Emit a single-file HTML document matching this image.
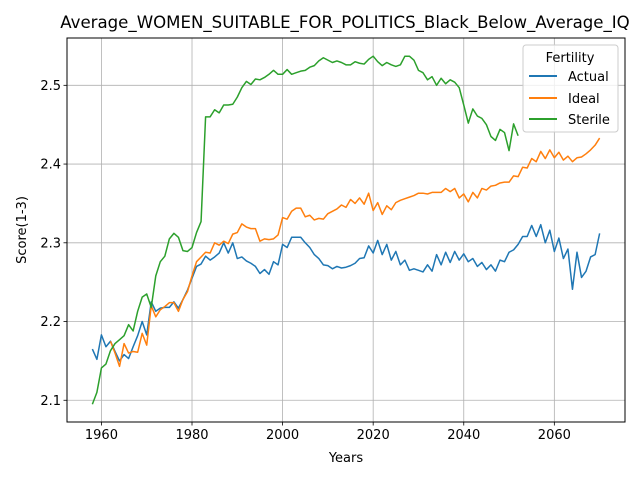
<!DOCTYPE html>
<html><head><meta charset="utf-8">
<style>
body{margin:0;background:#fff;}
svg{font-family:"DejaVu Sans","Liberation Sans",sans-serif;}
</style></head>
<body>
<svg id="chart" width="640" height="480" viewBox="0 0 640 480" xmlns="http://www.w3.org/2000/svg">
<rect width="640" height="480" fill="#fff"/>
<text x="345" y="28" font-size="16.6" text-anchor="middle">Average_WOMEN_SUITABLE_FOR_POLITICS_Black_Below_Average_IQ</text>
<g id="grid"></g>
<g id="series"></g>
<rect x="67" y="38" width="558" height="384" fill="none" stroke="#000" stroke-width="1"/>
<g id="ticks"></g>
<text x="346" y="462" font-size="13" text-anchor="middle">Years</text>
<text x="26" y="230" font-size="13" text-anchor="middle" transform="rotate(-90 26 230)">Score(1-3)</text>
<g>
<rect x="523" y="45" width="95" height="87" rx="3" fill="#fff" fill-opacity="0.8" stroke="#ccc"/>
<text x="570" y="62" font-size="13" text-anchor="middle">Fertility</text>
<line x1="529" y1="76" x2="557" y2="76" stroke="#1f77b4" stroke-width="2"/>
<text x="568" y="81" font-size="13">Actual</text>
<line x1="529" y1="98" x2="557" y2="98" stroke="#ff7f0e" stroke-width="2"/>
<text x="568" y="103" font-size="13">Ideal</text>
<line x1="529" y1="119" x2="557" y2="119" stroke="#2ca02c" stroke-width="2"/>
<text x="568" y="124" font-size="13">Sterile</text>
</g>
</svg>
<script>
const actualStart = 1958;
const actual = [2.165,2.152,2.183,2.168,2.175,2.162,2.150,2.158,2.153,2.168,2.182,2.200,2.183,2.225,2.213,2.217,2.218,2.218,2.225,2.217,2.228,2.240,2.255,2.270,2.273,2.283,2.278,2.282,2.287,2.300,2.287,2.300,2.280,2.282,2.277,2.274,2.270,2.261,2.266,2.260,2.276,2.272,2.298,2.294,2.307,2.307,2.307,2.300,2.294,2.285,2.280,2.272,2.271,2.267,2.270,2.268,2.269,2.271,2.274,2.280,2.281,2.296,2.287,2.303,2.285,2.298,2.278,2.289,2.272,2.278,2.265,2.267,2.265,2.263,2.272,2.264,2.285,2.272,2.288,2.275,2.289,2.278,2.286,2.276,2.280,2.270,2.275,2.266,2.272,2.264,2.278,2.276,2.288,2.291,2.298,2.308,2.308,2.322,2.308,2.323,2.300,2.316,2.289,2.306,2.280,2.292,2.241,2.288,2.256,2.264,2.282,2.285,2.312];
const idealStart = 1962;
const ideal = [2.175,2.160,2.143,2.172,2.160,2.162,2.161,2.185,2.170,2.220,2.206,2.215,2.219,2.224,2.224,2.213,2.228,2.238,2.258,2.276,2.282,2.288,2.287,2.300,2.297,2.302,2.299,2.311,2.313,2.324,2.320,2.318,2.318,2.302,2.305,2.304,2.305,2.310,2.332,2.330,2.340,2.344,2.344,2.333,2.335,2.329,2.331,2.330,2.337,2.340,2.343,2.348,2.345,2.355,2.350,2.357,2.349,2.363,2.341,2.351,2.336,2.347,2.342,2.351,2.354,2.356,2.358,2.360,2.363,2.363,2.362,2.364,2.364,2.364,2.369,2.365,2.369,2.357,2.362,2.352,2.364,2.357,2.369,2.367,2.372,2.373,2.376,2.377,2.377,2.385,2.384,2.396,2.395,2.407,2.403,2.416,2.407,2.418,2.408,2.415,2.405,2.410,2.403,2.408,2.409,2.413,2.418,2.424,2.433];
const sterileStart = 1958;
const sterile = [2.095,2.110,2.141,2.146,2.163,2.172,2.177,2.182,2.196,2.188,2.213,2.231,2.235,2.218,2.258,2.276,2.283,2.305,2.312,2.307,2.290,2.289,2.294,2.313,2.327,2.460,2.460,2.469,2.465,2.475,2.475,2.476,2.485,2.497,2.505,2.501,2.508,2.507,2.510,2.514,2.519,2.514,2.514,2.520,2.514,2.516,2.518,2.519,2.523,2.525,2.531,2.535,2.532,2.529,2.531,2.529,2.526,2.526,2.530,2.528,2.527,2.533,2.537,2.530,2.525,2.529,2.526,2.524,2.526,2.537,2.537,2.532,2.519,2.516,2.507,2.511,2.500,2.509,2.502,2.507,2.504,2.497,2.475,2.452,2.470,2.461,2.458,2.450,2.435,2.430,2.444,2.440,2.417,2.451,2.436];
const xTicks = [1960,1980,2000,2020,2040,2060];
const yTicks = [2.1,2.2,2.3,2.4,2.5];

const NS = "http://www.w3.org/2000/svg";
const L=67,R=625,T=38,B=422;
const xMin=1952.4,xMax=2075.6,yMin=2.0724,yMax=2.5601;
function xs(v){return L+(v-xMin)/(xMax-xMin)*(R-L);}
function ys(v){return B-(v-yMin)/(yMax-yMin)*(B-T);}
const grid=document.getElementById('grid'),ticks=document.getElementById('ticks'),ser=document.getElementById('series');
function mk(tag,attrs,parent){const e=document.createElementNS(NS,tag);for(const k in attrs)e.setAttribute(k,attrs[k]);parent.appendChild(e);return e;}
xTicks.forEach(t=>{
  const x=xs(t);
  const g=mk('line',{x1:x,x2:x,y1:T,y2:B,stroke:'#b0b0b0','stroke-width':0.8},grid);
  
  
  mk('line',{x1:x,x2:x,y1:B,y2:B+3.5,stroke:'#000','stroke-width':0.8},ticks);
  const tx=mk('text',{x:x,y:B+17,'font-size':13,'text-anchor':'middle'},ticks);
  tx.textContent=t;
  
  
});
yTicks.forEach(t=>{
  const y=ys(t);
  const g=mk('line',{x1:L,x2:R,y1:y,y2:y,stroke:'#b0b0b0','stroke-width':0.8},grid);
  
  
  mk('line',{x1:L-3.5,x2:L,y1:y,y2:y,stroke:'#000','stroke-width':0.8},ticks);
  const tx=mk('text',{x:L-6,y:y+4.5,'font-size':13,'text-anchor':'end'},ticks);
  tx.textContent=t.toFixed(1);
  
  
});
function line(vals,start,color,name){
  const d=vals.map((v,i)=>(i?'L':'M')+xs(start+i).toFixed(2)+','+ys(v).toFixed(2)).join('');
  const p=mk('path',{d:d,fill:'none',stroke:color,'stroke-width':1.5,'stroke-linejoin':'round'},ser);
  
  
}
line(actual,actualStart,'#1f77b4','actual-line');
line(ideal,idealStart,'#ff7f0e','ideal-line');
line(sterile,sterileStart,'#2ca02c','sterile-line');
</script>
</body></html>
